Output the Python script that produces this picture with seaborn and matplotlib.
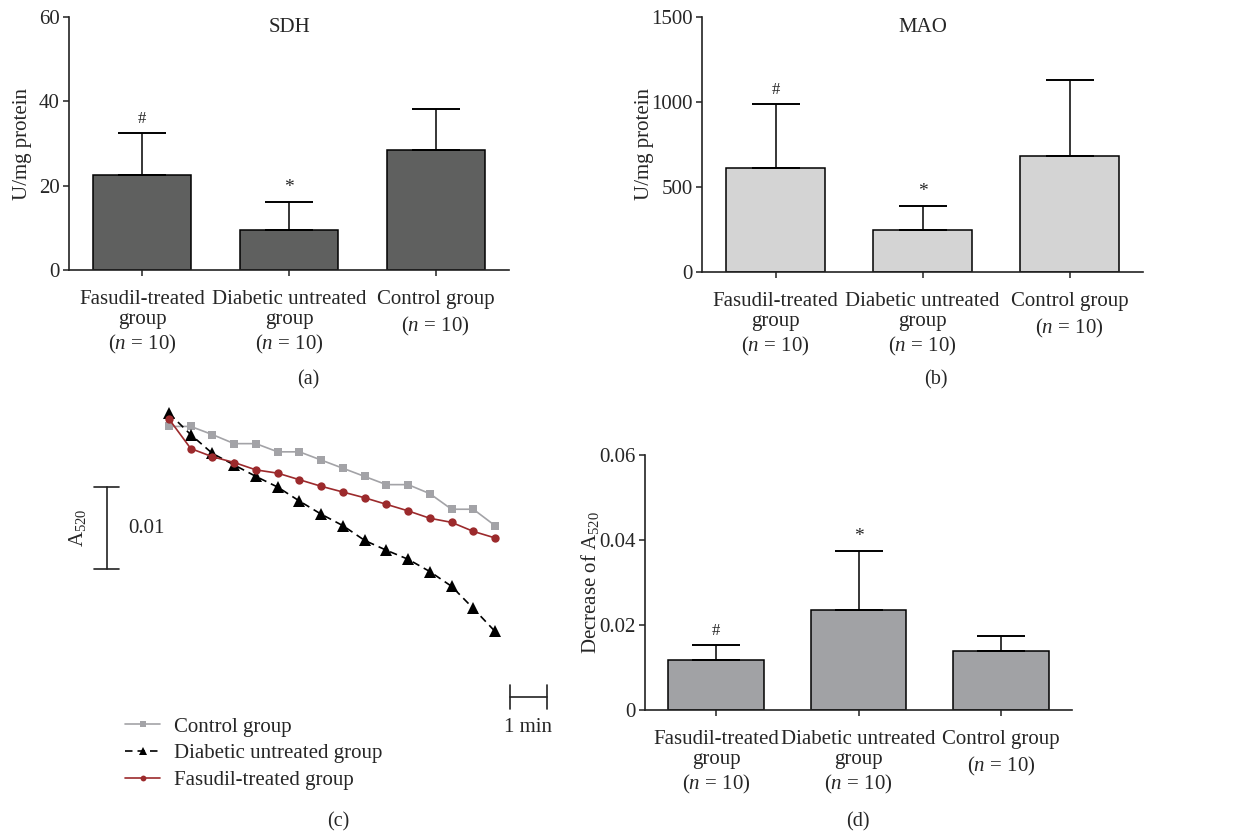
import matplotlib
matplotlib.use("Agg")
import matplotlib.pyplot as plt
import seaborn as sns
import numpy as np
import pandas as pd
from matplotlib.ticker import FuncFormatter

# ---------------- data ----------------
groups = ["Fasudil-treated\ngroup", "Diabetic untreated\ngroup", "Control group"]
n_labels = ["($n$ = 10)", "($n$ = 10)", "($n$ = 10)"]
marks = ["#", "*", ""]

sdh_mean = [22.5, 9.6, 28.5]
sdh_sd = [10.1, 6.6, 9.8]

mao_mean = [610, 249, 684]
mao_sd = [378, 139, 445]

dec_mean = [0.0118, 0.0236, 0.0138]
dec_sd = [0.0036, 0.0139, 0.0035]

time_s = [0, 35, 70, 105, 140, 175, 210, 245, 280, 315, 350, 385, 420, 455, 490, 525]
control_dA = [-0.0016, -0.0016, -0.0026, -0.0037, -0.0037, -0.0047, -0.0047, -0.0057,
              -0.0067, -0.0077, -0.0087, -0.0087, -0.0098, -0.0117, -0.0117, -0.0137]
diabetic_dA = [0.0000, -0.0026, -0.0049, -0.0063, -0.0077, -0.0090, -0.0107, -0.0123,
               -0.0137, -0.0155, -0.0167, -0.0178, -0.0193, -0.0211, -0.0238, -0.0266]
fasudil_dA = [-0.0007, -0.0043, -0.0053, -0.0060, -0.0069, -0.0073, -0.0081, -0.0089,
              -0.0096, -0.0103, -0.0111, -0.0119, -0.0128, -0.0133, -0.0144, -0.0152]

# ---------------- style ----------------
sns.set_style("ticks")
plt.rcParams["font.family"] = ["Liberation Serif", "DejaVu Serif"]
plt.rcParams["mathtext.fontset"] = "custom"
plt.rcParams["mathtext.rm"] = "Liberation Serif"
plt.rcParams["mathtext.it"] = "Liberation Serif:italic"
FS = 15
AX_COL = "#222222"

W, H = 1239, 834
fig = plt.figure(figsize=(W / 100, H / 100), dpi=100)


def px_axes(x0, ytop, x1, ybot):
    return fig.add_axes([x0 / W, (H - ybot) / H, (x1 - x0) / W, (ybot - ytop) / H])


def bar_panel(ax, means, sds, color, yticks, ylabel, ylabel_x, title=None, fmt=None):
    df = pd.DataFrame({"group": groups, "value": means})
    sns.barplot(data=df, x="group", y="value", color=color, saturation=1,
                width=0.67, edgecolor="black", linewidth=1.1, errorbar=None, ax=ax)
    xs = np.arange(len(means))
    ax.errorbar(xs, means, yerr=[np.zeros(len(sds)), sds], fmt="none",
                ecolor="black", elinewidth=1.1, capsize=17, capthick=1.4, zorder=3)
    for x, m, s, mk in zip(xs, means, sds, marks):
        if mk:
            ax.annotate(mk, xy=(x, m + s), xytext=(0, 4), textcoords="offset points",
                        ha="center", va="bottom", fontsize=12 if mk == "#" else 14)
    ax.set_xlim(-0.5, 2.5)
    ax.set_ylim(yticks[0], yticks[-1])
    ax.set_yticks(yticks)
    if fmt is not None:
        ax.yaxis.set_major_formatter(FuncFormatter(fmt))
    ax.set_xlabel("")
    ax.set_ylabel(ylabel, fontsize=FS)
    ax.yaxis.set_label_coords(ylabel_x, 0.5)
    ax.set_xticks(xs)
    ax.set_xticklabels(groups, fontsize=FS, linespacing=1.05)
    for x, g, nl in zip(xs, groups, n_labels):
        off = -74 if "\n" in g else -56
        ax.annotate(nl, xy=(x, 0), xycoords=ax.get_xaxis_transform(),
                    xytext=(0, off * 0.72), textcoords="offset points",
                    ha="center", va="center", fontsize=FS)
    ax.tick_params(axis="both", direction="out", length=4.5, width=1.1,
                   color=AX_COL, labelsize=FS)
    ax.tick_params(axis="x", pad=10)
    ax.tick_params(axis="y", pad=2)
    sns.despine(ax=ax)
    for sp in ["left", "bottom"]:
        ax.spines[sp].set_linewidth(1.2)
        ax.spines[sp].set_color(AX_COL)
    if title:
        ax.text(0.5, 0.96, title, transform=ax.transAxes, ha="center", va="center",
                fontsize=FS)


# (a) SDH
ax_a = px_axes(69, 17, 509, 270)
bar_panel(ax_a, sdh_mean, sdh_sd, "#5f605f", [0, 20, 40, 60], "U/mg protein",
          -0.085, title="SDH")

# (b) MAO
ax_b = px_axes(702, 17, 1143, 272)
bar_panel(ax_b, mao_mean, mao_sd, "#d4d4d4", [0, 500, 1000, 1500], "U/mg protein",
          -0.108, title="MAO")

# (d) Decrease of A520
ax_d = px_axes(645, 455, 1072, 710)
bar_panel(ax_d, dec_mean, dec_sd, "#a1a2a5", [0, 0.02, 0.04, 0.06],
          "Decrease of A$_{520}$", -0.104, fmt=lambda v, p: "0" if v == 0 else f"{v:g}")

# (c) kinetic curves
ax_c = px_axes(60, 395, 560, 800)
series = [
    ("Control group", control_dA, "#a3a3a7", "s", 6.0, "-"),
    ("Diabetic untreated group", diabetic_dA, "black", "^", 8.0, (0, (4.5, 3))),
    ("Fasudil-treated group", fasudil_dA, "#9c2a2c", "o", 6.0, "-"),
]
for name, vals, col, mk, ms, ls in series:
    sns.lineplot(x=time_s, y=vals, color=col, marker=mk, markersize=ms,
                 markeredgecolor=col, markeredgewidth=0, linewidth=1.2,
                 linestyle=ls, label=name, ax=ax_c, legend=False)
ax_c.set_xlim(-175.5, 629.6)
ax_c.set_ylim(-0.04716, 0.002232)
ax_c.axis("off")

# scale bars
ax_c.plot([-100, -100], [-0.009, -0.019], color=AX_COL, lw=1.2)
ax_c.plot([-120, -80], [-0.009, -0.009], color=AX_COL, lw=1.2)
ax_c.plot([-120, -80], [-0.019, -0.019], color=AX_COL, lw=1.2)
ax_c.text(-66, -0.0141, "0.01", ha="left", va="center", fontsize=FS)
ax_c.text(-148, -0.0140, "A$_{520}$", ha="center", va="center", rotation=90, fontsize=FS)

ax_c.plot([549, 609], [-0.0346, -0.0346], color=AX_COL, lw=1.2)
ax_c.plot([549, 549], [-0.0331, -0.0361], color=AX_COL, lw=1.2)
ax_c.plot([609, 609], [-0.0331, -0.0361], color=AX_COL, lw=1.2)
ax_c.text(578, -0.0383, "1 min", ha="center", va="center", fontsize=FS)

handles, labels = ax_c.get_legend_handles_labels()
leg = ax_c.legend(handles, labels, loc="upper left",
                  bbox_to_anchor=(125 / W, (H - 717) / H), bbox_transform=fig.transFigure,
                  frameon=False, fontsize=FS, handlelength=1.7, handletextpad=0.65,
                  labelspacing=0.35, borderpad=0, borderaxespad=0, markerscale=0.7)

# panel labels
for lab, x, y in [("(a)", 308, 380), ("(b)", 936, 380), ("(c)", 338, 822), ("(d)", 858, 822)]:
    fig.text(x / W, 1 - y / H, lab, ha="center", va="center", fontsize=14.5)

fig.savefig("out.png", dpi=100)
